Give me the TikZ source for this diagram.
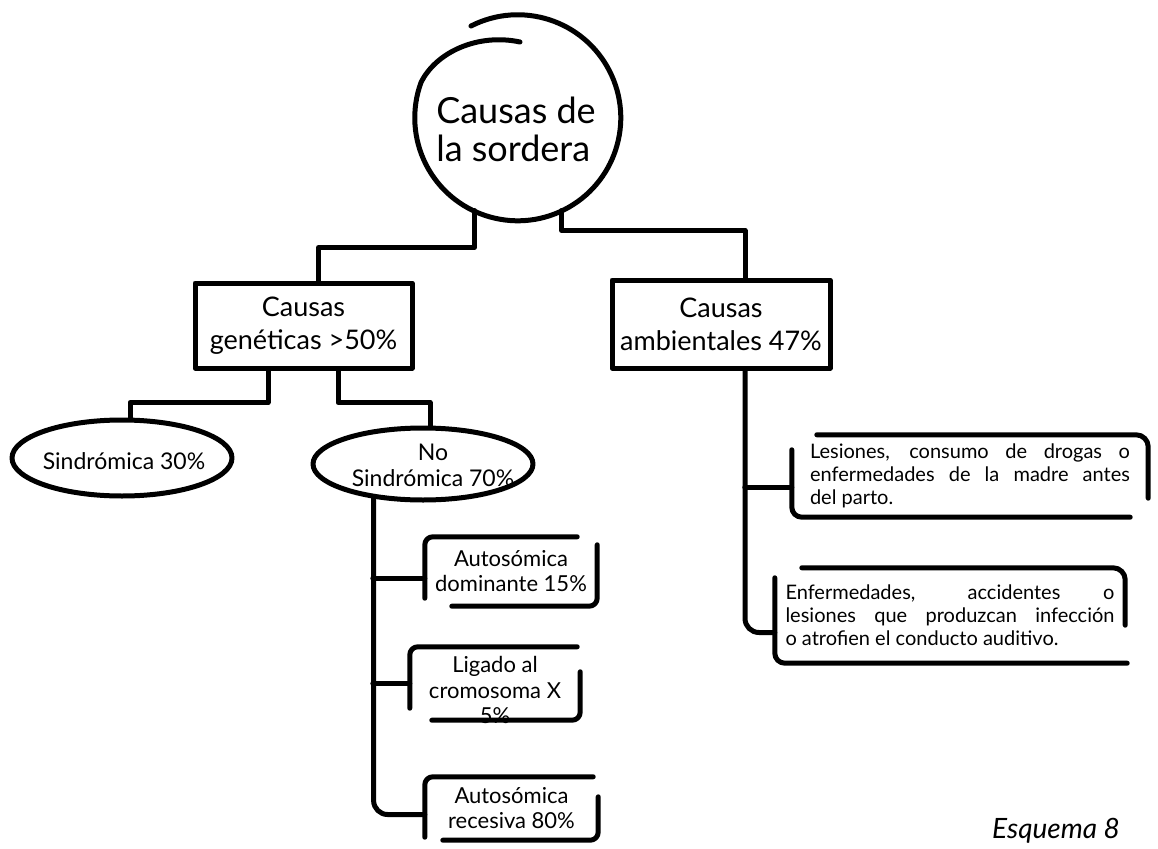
\documentclass[tikz,border=0pt]{standalone}
\usepackage{fontspec}
\setmainfont{Lato}
\usetikzlibrary{shapes.geometric}
\tikzset{
  bk/.style={line width=5pt, line cap=round, line join=round},
  txt/.style={inner sep=0pt, align=center, text=black},
  rootfont/.style={font=\fontsize{36}{38}\selectfont},
  boxfont/.style={font=\fontsize{27}{33}\selectfont},
  ellfont/.style={font=\fontsize{23}{26}\selectfont},
  leaffont/.style={font=\fontsize{22}{25}\selectfont},
  sidefont/.style={font=\fontsize{20}{23}\selectfont},
  leaf/.style={txt, leaffont, minimum height=#1},
  side/.style={inner ysep=0pt, sidefont, align=justify}
}
\newcommand\leafbracket[5]{%
  \draw[bk, rounded corners=8pt] ([yshift=#2]#1.south west) |- ([xshift=-#3]#1.north east);
  \draw[bk, rounded corners=8pt] ([yshift=-#4]#1.north east) |- ([xshift=#5]#1.south west);}
\newcommand\sidebracket[5]{%
  \draw[bk, rounded corners=12pt] ([xshift=#2]#1.north west) -| ([yshift=#3]#1.south east);
  \draw[bk, rounded corners=10pt] ([yshift=-#4]#1.north west) |- ([xshift=-#5]#1.south east);}
\begin{document}
\begin{tikzpicture}[x=1pt,y=-1pt]
\useasboundingbox (0,0) rectangle (1158,848);
\clip (0,0) rectangle (1158,848);
\fill[white] (0,0) rectangle (1158,848);

% root (hand-drawn spiral circle)
\node[circle, minimum size=206pt, inner sep=0pt] (root) at (518,117) {};
\draw[bk] (471,26) arc[start angle=243, end angle=560, radius=103]
  .. controls (436,52) and (478,33) .. (520,42);
\node[txt, rootfont, align=left] (roottxt) at (516,129) {Causas de\\la sordera};

% level 1
\node[draw, bk, boxfont, txt, minimum width=217pt, minimum height=85pt] (gen) at (303.5,325.5) {Causas\\genéticas >50\%};
\node[draw, bk, boxfont, txt, minimum width=218pt, minimum height=88pt] (amb) at (721,324) {Causas\\ambientales 47\%};

\draw[bk] (root.245) -- ++(0,37) -| ([xshift=15pt]gen.north);
\draw[bk] (root.295) -- ++(0,20) -| ([xshift=24pt]amb.north);

% level 2 (genetic)
\node[ellipse, draw, bk, minimum width=220pt, minimum height=76pt, inner sep=0pt] (sind) at (122,458) {};
\node[txt, ellfont] (sindt) at (124,461) {Sindrómica 30\%};
\node[ellipse, draw, bk, minimum width=220pt, minimum height=72pt, inner sep=0pt] (nosind) at (423,464) {};
\node[txt, ellfont] (nosindt) at (433,465) {No\\Sindrómica 70\%};

\draw[bk] ([xshift=-35.5pt]gen.south) -- ++(0,32) -| ([xshift=8pt]sind.north);
\draw[bk] ([xshift=34.5pt]gen.south) -- ++(0,32) -| ([xshift=7pt]nosind.north);

% leaves
\node[leaf=69pt, minimum width=172pt] (dom) at (511,571.5) {Autosómica\\dominante 15\%};
\node[minimum height=73pt, minimum width=170pt, inner sep=0pt] (ligbox) at (495,683.5) {};
\node[txt, font=\fontsize{22}{25.5}\selectfont] (lig) at (495,690) {Ligado al\\cromosoma X\\5\%};
\node[leaf=63pt, minimum width=173pt] (rec) at (511.5,808.5) {Autosómica\\recesiva 80\%};

\leafbracket{dom}{8pt}{20pt}{8pt}{27pt}
\leafbracket{ligbox}{12pt}{3pt}{25pt}{22pt}
\leafbracket{rec}{3pt}{5pt}{20pt}{18pt}

\draw[bk, rounded corners=14pt] (nosind.215) |- ([yshift=-6pt]rec.west);
\draw[bk] ([yshift=-6.5pt]dom.west) -- ++(-52pt,0);
\draw[bk] (ligbox.west) -- ++(-37pt,0);

% right side
\node[side, text width=320pt, inner xsep=18pt, minimum height=82pt] (les) at (970,476)
  {Lesiones, consumo de drogas o\linebreak enfermedades de la madre antes\linebreak del parto.};
\node[side, text width=329pt, inner xsep=10.5pt, minimum height=95pt] (enf) at (950,615.5)
  {Enfermedades, accidentes o\linebreak lesiones que produzcan infección\linebreak o atrofien el conducto auditivo.};

\sidebracket{les}{25pt}{19pt}{15pt}{18pt}
\sidebracket{enf}{27pt}{38pt}{10pt}{-2pt}

\draw[bk, rounded corners=14pt] ([xshift=24pt]amb.south) |- ([yshift=-17pt]enf.west);
\draw[bk] ([yshift=-11pt]les.west) -- ++(-47pt,0);

% caption
\node[anchor=base west, inner sep=0pt, font=\itshape\fontsize{28}{28}\selectfont] (esq) at (992,838) {Esquema 8};
\end{tikzpicture}
\end{document}
